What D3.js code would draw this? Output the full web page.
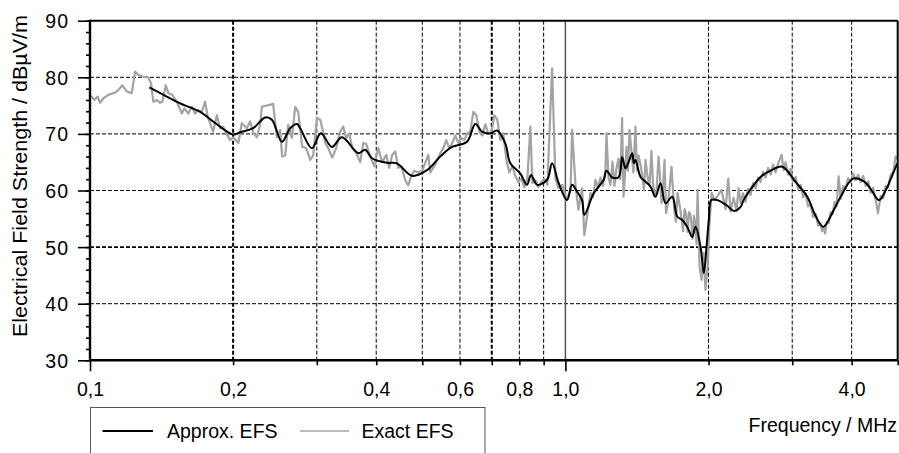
<!DOCTYPE html>
<html><head><meta charset="utf-8">
<script src="https://cdn.jsdelivr.net/npm/d3@7"></script>
<style>
body{margin:0;background:#fff}
svg text{font-family:"Liberation Sans",Arial,sans-serif;fill:#000}
</style>
</head><body>
<svg id="chart" width="899" height="453"></svg>
<script>
// ---------- data ----------
const exactFreq = [0.1,0.1008,0.1021,0.1038,0.1050,0.1067,0.1093,0.1120,0.1138,0.1157,0.1169,0.1195,0.1224,0.1244,0.1264,0.1295,0.1326,0.1344,0.1359,0.1382,0.1404,0.1420,0.1443,0.1462,0.1490,0.1522,0.1560,0.1579,0.1610,0.1637,0.1664,0.1690,0.1719,0.1746,0.1769,0.1789,0.1815,0.1848,0.1878,0.1905,0.1938,0.1971,0.2000,0.2052,0.2086,0.2137,0.2172,0.2204,0.2244,0.2280,0.2299,0.2374,0.2428,0.2472,0.2512,0.2536,0.2574,0.2611,0.2659,0.2702,0.2741,0.2795,0.2850,0.2905,0.2948,0.3001,0.3050,0.3080,0.3125,0.3170,0.3232,0.3295,0.3360,0.3409,0.3459,0.3510,0.3561,0.3631,0.3702,0.3756,0.3811,0.3886,0.3962,0.4039,0.4118,0.4199,0.4260,0.4323,0.4386,0.4450,0.4515,0.4604,0.4671,0.4740,0.4809,0.4903,0.4999,0.5147,0.5197,0.5299,0.5376,0.5455,0.5535,0.5616,0.5698,0.5782,0.5866,0.5952,0.6039,0.6128,0.6217,0.6310,0.6402,0.6496,0.6591,0.6687,0.6785,0.6884,0.6985,0.7087,0.7191,0.7296,0.7403,0.7512,0.7622,0.7733,0.7846,0.7961,0.8078,0.8196,0.8318,0.8439,0.8522,0.8646,0.8773,0.8901,0.9032,0.9164,0.9376,0.9527,0.9667,0.9856,1.005,1.025,1.033,1.050,1.065,1.084,1.096,
  1.129,1.143,1.157,1.171,1.185,1.199,1.214,1.220,1.232,1.244,1.256,1.268,1.280,1.293,1.304,1.316,1.325,1.334,1.344,1.354,1.364,1.377,1.390,1.404,1.414,1.425,1.439,1.453,1.463,1.474,1.488,1.503,1.517,1.528,1.540,1.555,1.570,1.581,1.593,1.604,1.616,1.628,1.640,1.656,1.672,1.684,1.696,1.708,1.721,1.738,1.755,1.768,1.781,1.794,1.807,1.820,1.833,1.842,1.851,1.864,1.878,1.887,1.897,
  1.915,1.934,1.952,1.971,1.991,2.010,2.030,2.059,2.100,2.130,2.172,2.201,2.225,2.258,2.291,2.313,2.336,2.364,2.393,2.422,2.452,2.482,2.512,2.543,2.573,2.604,2.637,2.669,2.701,2.734,2.767,2.808,2.850,2.878,2.905,2.940,2.977,3.013,3.050,3.087,3.124,3.162,3.201,3.240,3.279,3.319,3.360,3.401,3.442,3.467,3.493,3.518,3.544,3.579,3.613,3.648,3.684,3.720,3.756,3.793,3.839,3.886,3.933,3.981,4.030,4.079,4.129,4.179,4.230,4.281,4.333,4.386,4.440,4.493,4.544,4.604,4.660,4.716,4.774,4.832,4.891,4.950,5.0];
const exactEFS = [76.3,76.6,76.0,76.6,75.5,76.3,76.9,77.2,77.5,78.1,78.6,77.5,77.2,81.0,80.4,80.1,80.0,78.9,75.7,76.0,75.5,75.7,78.6,77.2,76.9,75.7,73.6,74.5,73.6,74.8,73.6,74.2,73.9,75.7,73.0,71.9,70.4,73.3,71.0,71.3,70.0,68.9,69.4,68.4,71.9,71.0,72.2,70.3,69.4,71.6,74.8,75.1,75.3,69.4,70.7,66.0,66.2,71.6,69.3,74.8,73.9,67.7,67.5,65.4,66.2,72.8,72.5,71.0,68.4,67.5,65.8,67.5,70.4,71.3,69.3,70.1,67.5,66.6,65.0,68.4,68.2,66.0,64.3,67.5,65.0,66.3,64.0,66.3,66.9,64.0,64.3,61.8,60.9,62.6,63.5,63.2,63.5,66.3,63.2,64.3,65.4,66.6,67.5,68.9,67.5,68.4,69.7,68.4,69.3,68.9,70.1,70.4,73.9,73.3,70.4,69.7,71.7,70.0,70.1,73.3,72.5,68.9,70.1,65.4,63.2,64.3,62.6,61.5,62.1,60.6,62.1,71.3,61.3,61.8,60.6,61.5,62.1,61.0,81.6,62.1,60.4,61.0,58.3,60.0,70.7,61.0,56.6,60.4,52.1,
  59.6,58.8,61.9,60.5,62.3,60.8,63.6,70.1,62.3,61.0,65.1,60.8,63.8,65.6,62.0,72.8,58.9,62.5,67.7,63.5,70.7,66.9,63.2,71.3,63.5,66.2,64.5,62.3,60.0,65.4,62.5,60.8,67.0,61.5,59.0,60.0,66.0,62.5,57.8,60.2,65.4,56.0,57.3,60.5,64.2,60.0,56.3,54.5,59.6,57.5,55.1,52.8,56.7,55.8,52.7,56.2,55.7,54.0,51.5,55.5,53.7,50.5,60.1,
  46.5,44.2,49.0,42.4,46.5,54.3,59.6,58.3,59.3,60.1,56.7,62.1,56.3,58.7,56.3,60.4,57.8,59.5,58.0,60.3,59.2,61.3,60.4,62.3,61.5,63.3,62.3,64.0,62.8,64.6,63.2,65.0,66.3,63.6,65.0,62.8,63.8,61.6,62.4,60.2,61.0,58.8,59.5,57.2,57.5,55.3,55.9,53.8,54.2,52.8,53.5,52.4,54.4,54.2,56.2,55.8,58.0,57.2,62.5,58.5,60.8,60.3,62.2,61.4,63.0,61.8,62.8,61.5,62.6,60.8,61.6,59.6,60.5,58.4,56.0,59.0,58.6,60.8,60.6,62.8,63.2,66.0,65.6];

const approxFreq = [0.1333,0.1450,0.1547,0.1705,0.1815,0.2,0.2069,0.2204,0.2336,0.2413,0.2533,0.2637,0.2724,0.2768,0.2929,0.3060,0.3227,0.3388,0.3671,0.3793,0.3918,0.4213,0.4422,0.4756,0.5115,0.5455,0.5773,0.6209,0.6464,0.6678,0.6951,0.7181,0.7476,0.7659,0.8039,0.8304,0.8467,0.8718,0.9151,0.9376,0.9681,1.008,1.033,1.058,1.084,1.096,1.147,1.204,1.220,1.254,1.295,1.316,1.338,1.359,1.382,1.393,1.404,1.439,1.474,1.510,1.547,1.585,1.624,1.678,1.719,1.761,1.804,1.848,1.878,1.924,1.955,1.981,2.003,2.027,2.087,2.190,2.261,2.336,2.370,2.452,2.573,2.701,2.859,3.050,3.227,3.360,3.487,3.671,3.793,4.026,4.246,4.386,4.566,4.716,4.832,4.99];
const approxEFS = [78.2,76.6,75.4,73.9,72.2,69.9,70.3,71.0,72.9,72.5,68.6,71.0,71.75,71.0,67.45,70.1,67.7,69.4,66.6,67.2,65.7,64.9,64.8,62.6,63.6,66.0,67.7,68.6,71.75,70.4,70.1,70.6,68.3,64.8,63.0,61.0,62.75,61.0,61.9,64.8,61.3,58.3,61.0,59.8,58.3,55.7,59.5,61.9,63.5,62.3,62.4,65.9,63.9,65.1,66.6,64.8,65.4,62.4,61.55,60.7,58.9,61.3,57.75,58.9,55.4,54.8,53.6,51.8,53.6,50.1,45.4,50.1,54.8,58.3,58.3,57.3,56.4,57.1,58.3,60.2,62.4,63.5,64.2,61.5,58.9,55.5,53.6,56.6,58.9,62.1,61.6,60.3,58.3,60.0,62.0,64.8];

const xTicks = [0.1,0.2,0.3,0.4,0.5,0.6,0.7,0.8,0.9,1,2,3,4,5];
const xTickLabels = [0.1,0.2,0.4,0.6,0.8,1,2,4];
const xGrid = [0.2,0.3,0.4,0.5,0.6,0.7,0.8,0.9,2,3,4];
const yTicks = [30,40,50,60,70,80,90];
const yMinorTicks = [30,32,34,36,38,40,42,44,46,48,50,52,54,56,58,60,62,64,66,68,70,72,74,76,78,80,82,84,86,88,90];
const yGrid = [40,50,60,70,80];
const seriesNames = ["Approx. EFS","Exact EFS"];

// ---------- layout ----------
const svg = d3.select("#chart");
const L = 90, R = 897.7, T = 20.7, B = 360.3;
const x = d3.scaleLog().domain([0.1,5]).range([L,R]);
const y = d3.scaleLinear().domain([30,90]).range([B,T]);
const FONT = "19.5px";

// grid
const g = svg.append("g");
g.selectAll(".hg").data(yGrid).enter().append("line")
  .attr("x1",L).attr("x2",R).attr("y1",d=>y(d)).attr("y2",d=>y(d))
  .attr("stroke","#000").attr("stroke-width",d=>d===50?1.6:1).attr("stroke-dasharray","4,2");
g.selectAll(".vg").data(xGrid).enter().append("line")
  .attr("x1",d=>x(d)).attr("x2",d=>x(d)).attr("y1",T).attr("y2",B)
  .attr("stroke","#000").attr("stroke-width",d=>(d===0.2||d===0.7)?2:1).attr("stroke-dasharray","4,2");
g.append("line").attr("x1",x(1)).attr("x2",x(1)).attr("y1",T).attr("y2",B)
  .attr("stroke","#555").attr("stroke-width",1.5);

// series
const nE = Math.min(exactFreq.length, exactEFS.length);
const exactData = exactFreq.slice(0,nE).map((f,i)=>[f,exactEFS[i]]);
const approxData = approxFreq.map((f,i)=>[f,approxEFS[i]]);
svg.append("path").datum(exactData)
  .attr("fill","none").attr("stroke","#a3a3a3").attr("stroke-width",2.2).attr("stroke-linejoin","round")
  .attr("d",d3.line().x(d=>x(d[0])).y(d=>y(d[1])));
svg.append("path").datum(approxData)
  .attr("fill","none").attr("stroke","#000").attr("stroke-width",2).attr("stroke-linejoin","round")
  .attr("d",d3.line().curve(d3.curveCatmullRom.alpha(0.5)).x(d=>x(d[0])).y(d=>y(d[1])));

// axes
const fmt = d => d3.format(".1f")(d).replace(".",",");
const xa = svg.append("g").attr("transform",`translate(0,${B})`)
  .call(d3.axisBottom(x).tickValues(xTicks).tickSize(5)
    .tickFormat(d => xTickLabels.includes(d) ? fmt(d) : ""));
xa.select(".domain").remove();
xa.selectAll(".tick line").attr("stroke","#000").attr("stroke-width",1.6)
  .attr("y2",d=>(d===0.1||d===1)?11:5);
xa.selectAll(".tick text").attr("y",35.7).attr("dy",0)
  .style("font-size",FONT).attr("fill","#000");

const ya2 = svg.append("g").attr("transform",`translate(${L},0)`)
  .call(d3.axisLeft(y).tickValues(yMinorTicks).tickSize(4).tickFormat(""));
ya2.select(".domain").remove();
ya2.selectAll(".tick line").attr("stroke","#000").attr("stroke-width",1.6);

const ya = svg.append("g").attr("transform",`translate(${L},0)`)
  .call(d3.axisLeft(y).tickValues(yTicks).tickSize(12).tickFormat(d=>d));
ya.select(".domain").remove();
ya.selectAll(".tick line").attr("stroke","#000").attr("stroke-width",1.6);
ya.selectAll(".tick text").attr("x",-21).attr("dy","0.36em")
  .style("font-size",FONT).style("letter-spacing","1px").attr("fill","#000");

// frame
svg.append("line").attr("x1",L).attr("x2",R).attr("y1",T).attr("y2",T).attr("stroke","#000").attr("stroke-width",2);
svg.append("line").attr("x1",R).attr("x2",R).attr("y1",T).attr("y2",B).attr("stroke","#000").attr("stroke-width",2);
svg.append("line").attr("x1",L).attr("x2",L).attr("y1",T-1).attr("y2",B+1).attr("stroke","#000").attr("stroke-width",2.4);
svg.append("line").attr("x1",L).attr("x2",R).attr("y1",B).attr("y2",B).attr("stroke","#000").attr("stroke-width",2.4);

// axis titles
svg.append("text").attr("transform","translate(26.5,176) rotate(-90)")
  .attr("text-anchor","middle").style("font-size",FONT)
  .attr("textLength",322).attr("lengthAdjust","spacingAndGlyphs")
  .text("Electrical Field Strength / dBµV/m");
svg.append("text").attr("x",897).attr("y",431.5).attr("text-anchor","end")
  .style("font-size",FONT).text("Frequency / MHz");

// legend
const lg = svg.append("g");
lg.append("rect").attr("x",90.5).attr("y",407.5).attr("width",394.5).attr("height",60)
  .attr("fill","#fff").attr("stroke","#555").attr("stroke-width",1);
const legendItems = [
  {name:seriesNames[0], color:"#000", x0:102.5, x1:153, tx:167},
  {name:seriesNames[1], color:"#a3a3a3", x0:300, x1:349, tx:361.5}
];
legendItems.forEach(it=>{
  lg.append("line").attr("x1",it.x0).attr("x2",it.x1).attr("y1",431).attr("y2",431)
    .attr("stroke",it.color).attr("stroke-width",it.color==="#000"?1.8:1.5);
  lg.append("text").attr("x",it.tx).attr("y",438).style("font-size",FONT).text(it.name);
});
</script>
</body></html>
